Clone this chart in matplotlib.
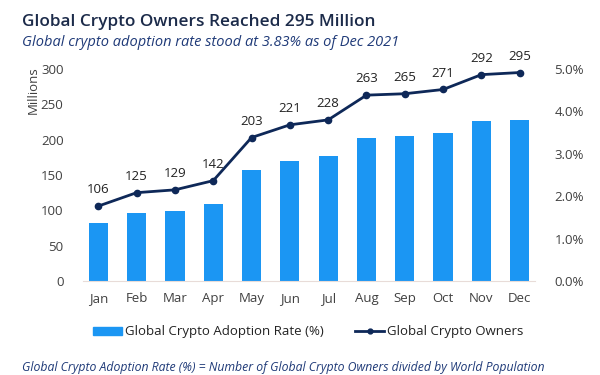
import matplotlib
matplotlib.use("Agg")
import matplotlib.pyplot as plt
from matplotlib.ticker import FuncFormatter
from matplotlib.lines import Line2D
from matplotlib.patches import Patch

months = ["Jan", "Feb", "Mar", "Apr", "May", "Jun", "Jul", "Aug", "Sep", "Oct", "Nov", "Dec"]
owners = [106, 125, 129, 142, 203, 221, 228, 263, 265, 271, 292, 295]
adoption_rate = [1.36, 1.61, 1.65, 1.81, 2.61, 2.84, 2.94, 3.38, 3.41, 3.49, 3.77, 3.80]

FONT = "Open Sans"
plt.rcParams["font.family"] = [FONT, "DejaVu Sans"]

bar_color = "#1b96f3"
line_color = "#0e2858"
text_color = "#222222"
tick_color = "#404040"

fig = plt.figure(figsize=(6, 3.75), dpi=100)
ax_l = fig.add_axes([83 / 600, 94 / 375, (535 - 83) / 600, (281 - 69) / 375])
ax_r = ax_l.twinx()

x = list(range(len(months)))
ax_r.bar(x, adoption_rate, width=0.5, color=bar_color, zorder=1)
ax_l.set_zorder(ax_r.get_zorder() + 1)
ax_l.patch.set_visible(False)
ax_l.plot(x, owners, color=line_color, lw=2, marker="o", ms=4.5, zorder=3)
for xi, v in zip(x, owners):
    ax_l.annotate(str(v), (xi, v), xytext=(0, 7), textcoords="offset points",
                  ha="center", va="bottom", fontsize=9.5, color=text_color)

ax_l.set_ylim(0, 300)
ax_l.set_yticks(range(0, 301, 50))
ax_r.set_ylim(0, 5)
ax_r.set_yticks([0, 1, 2, 3, 4, 5])
ax_r.yaxis.set_major_formatter(FuncFormatter(lambda v, p: f"{v:.1f}%"))
ax_l.set_xlim(-0.4, 11.4)
ax_l.set_xticks(x)
ax_l.set_xticklabels(months)

for a in (ax_l, ax_r):
    for s in a.spines.values():
        s.set_visible(False)
    a.tick_params(length=0, labelsize=9.5, colors=tick_color)
ax_l.spines["bottom"].set_visible(True)
ax_l.spines["bottom"].set_color("#e8dcd8")
ax_l.tick_params(axis="y", pad=14)
ax_r.tick_params(axis="y", pad=14)
ax_l.tick_params(axis="x", pad=8)

fig.text(33 / 600, 1 - 90 / 375, "Millions", rotation=90, ha="center", va="center",
         fontsize=9.5, color=tick_color)

fig.text(22 / 600, 1 - 22 / 375, "Global Crypto Owners Reached 295 Million", ha="left", va="center",
         fontsize=12.4, fontweight="semibold", color="#1c2b4a")
fig.text(22 / 600, 1 - 43 / 375, "Global crypto adoption rate stood at 3.83% as of Dec 2021", ha="left",
         va="center", fontsize=10.5, style="italic", color="#1f3a78")

handles = [Patch(color=bar_color),
           Line2D([0], [0], color=line_color, lw=2, marker="o", ms=3.5)]
fig.legend(handles, ["Global Crypto Adoption Rate (%)", "Global Crypto Owners"],
           loc="center", bbox_to_anchor=(308 / 600, 1 - 332 / 375), ncol=2, frameon=False,
           fontsize=9.5, handlelength=2.2, handleheight=0.5, columnspacing=2.4, handletextpad=0.2,
           labelcolor=text_color)

fig.text(22 / 600, 1 - 367 / 375,
         "Global Crypto Adoption Rate (%) = Number of Global Crypto Owners divided by World Population",
         ha="left", va="center", fontsize=8.8, style="italic", color="#1f3a78")

fig.savefig("out.png", dpi=100, facecolor="white")
